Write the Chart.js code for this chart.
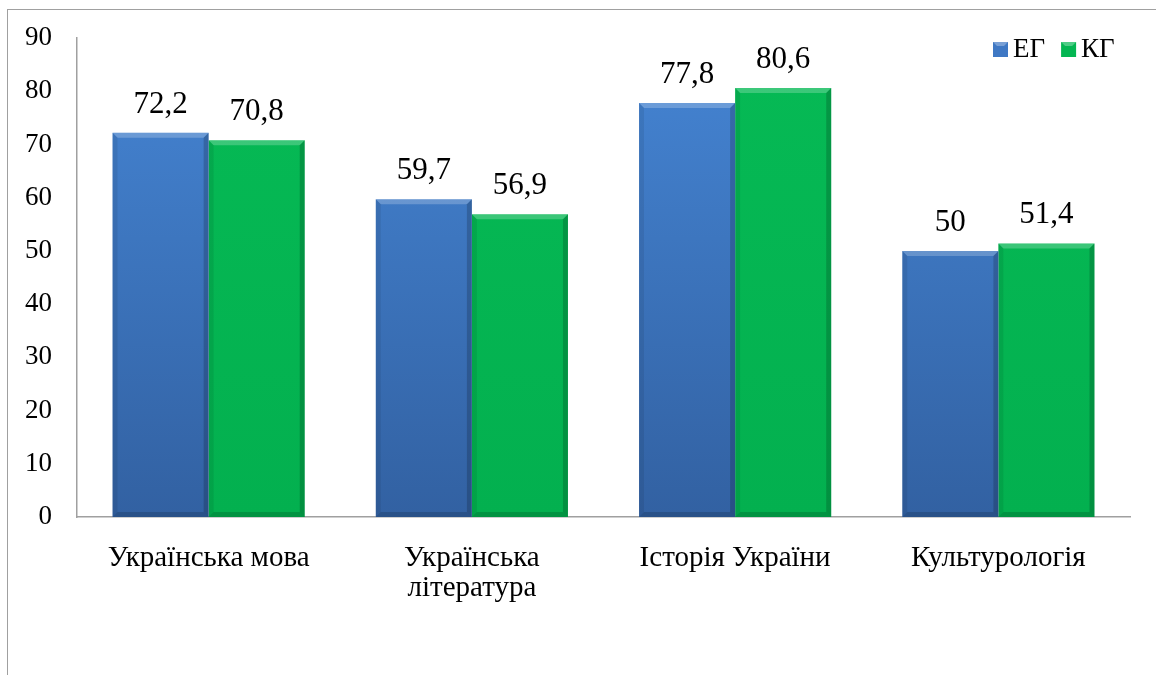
<!DOCTYPE html>
<html>
<head>
<meta charset="utf-8">
<script src="https://cdn.jsdelivr.net/npm/chart.js@4.4.1/dist/chart.umd.min.js"></script>
<style>
  html, body { margin: 0; padding: 0; background: #fff; overflow: hidden; }
  #wrap { position: relative; width: 1156px; height: 675px; }
  #frame { position: absolute; left: 7px; top: 9px; width: 1200px; height: 700px;
           border: 1.5px solid #a0a0a0; pointer-events: none; }
  canvas { position: absolute; left: 0; top: 0; }
</style>
</head>
<body>
<div id="wrap">
  <canvas id="barChart" width="1156" height="675"></canvas>
  <div id="frame"></div>
</div>
<script>
// data
var subjects = [['Українська мова'], ['Українська', 'література'], ['Історія України'], ['Культурологія']];
var egValues = [72.2, 59.7, 77.8, 50];
var kgValues = [70.8, 56.9, 80.6, 51.4];
var seriesNames = ['ЕГ', 'КГ'];
var yTicks = [0, 10, 20, 30, 40, 50, 60, 70, 80, 90];

var serif = '"Liberation Serif", "Times New Roman", serif';
var legendFills = ['#3f78c4', '#04b652'];

function blueFill(context) {
  var area = context.chart.chartArea;
  if (!area) return '#3f78c4';
  var g = context.chart.ctx.createLinearGradient(0, area.top, 0, area.bottom);
  g.addColorStop(0, '#4585d4');
  g.addColorStop(1, '#3261a2');
  return g;
}

function greenFill(context) {
  var area = context.chart.chartArea;
  if (!area) return '#04b652';
  var g = context.chart.ctx.createLinearGradient(0, area.top, 0, area.bottom);
  g.addColorStop(0, '#06ba55');
  g.addColorStop(1, '#03b04f');
  return g;
}

// bevel edges on every bar
var bevelPlugin = {
  id: 'bevel',
  afterDatasetsDraw: function (chart) {
    var ctx = chart.ctx;
    var d = 5;
    chart.data.datasets.forEach(function (ds, i) {
      chart.getDatasetMeta(i).data.forEach(function (bar) {
        var l = bar.x - bar.width / 2, r = bar.x + bar.width / 2;
        var t = bar.y, b = bar.base;
        ctx.save();
        ctx.fillStyle = 'rgba(255,255,255,0.22)';
        ctx.beginPath();
        ctx.moveTo(l, t); ctx.lineTo(r, t); ctx.lineTo(r - d, t + d); ctx.lineTo(l + d, t + d);
        ctx.closePath(); ctx.fill();
        ctx.fillStyle = 'rgba(0,0,0,0.08)';
        ctx.beginPath();
        ctx.moveTo(l, t); ctx.lineTo(l + d, t + d); ctx.lineTo(l + d, b - d); ctx.lineTo(l, b);
        ctx.closePath(); ctx.fill();
        ctx.fillStyle = 'rgba(0,0,0,0.18)';
        ctx.beginPath();
        ctx.moveTo(r, t); ctx.lineTo(r - d, t + d); ctx.lineTo(r - d, b - d); ctx.lineTo(r, b);
        ctx.closePath(); ctx.fill();
        ctx.fillStyle = 'rgba(0,0,0,0.16)';
        ctx.beginPath();
        ctx.moveTo(l, b); ctx.lineTo(l + d, b - d); ctx.lineTo(r - d, b - d); ctx.lineTo(r, b);
        ctx.closePath(); ctx.fill();
        ctx.restore();
      });
    });
  }
};

// value labels over the bars
var valuePlugin = {
  id: 'values',
  afterDatasetsDraw: function (chart) {
    var ctx = chart.ctx;
    ctx.save();
    ctx.font = '31px ' + serif;
    ctx.fillStyle = '#000';
    ctx.textAlign = 'center';
    ctx.textBaseline = 'alphabetic';
    chart.data.datasets.forEach(function (ds, i) {
      chart.getDatasetMeta(i).data.forEach(function (bar, j) {
        var txt = String(ds.data[j]).replace('.', ',');
        ctx.fillText(txt, bar.x, bar.y - 20);
      });
    });
    ctx.restore();
  }
};

// legend in the top right corner of the plot
var legendPlugin = {
  id: 'cornerLegend',
  afterDraw: function (chart) {
    var ctx = chart.ctx;
    var area = chart.chartArea;
    var x = area.right - 137;
    var y = 42;
    ctx.save();
    ctx.font = '27px ' + serif;
    ctx.textBaseline = 'middle';
    ctx.textAlign = 'left';
    chart.data.datasets.forEach(function (ds, i) {
      ctx.fillStyle = legendFills[i];
      ctx.fillRect(x, y, 15, 15);
      ctx.fillStyle = 'rgba(255,255,255,0.3)';
      ctx.beginPath();
      ctx.moveTo(x, y); ctx.lineTo(x + 15, y); ctx.lineTo(x + 11, y + 4); ctx.lineTo(x + 4, y + 4);
      ctx.closePath(); ctx.fill();
      ctx.fillStyle = '#000';
      ctx.fillText(ds.label, x + 20, y + 8);
      x += 20 + ctx.measureText(ds.label).width + 16;
    });
    ctx.restore();
  }
};

var ctx = document.getElementById('barChart').getContext('2d');
var myBarChart = new Chart(ctx, {
  type: 'bar',
  data: {
    labels: subjects,
    datasets: [
      {
        label: seriesNames[0],
        data: egValues,
        backgroundColor: blueFill,
        borderWidth: 0
      },
      {
        label: seriesNames[1],
        data: kgValues,
        backgroundColor: greenFill,
        borderWidth: 0
      }
    ]
  },
  options: {
    responsive: false,
    animation: false,
    devicePixelRatio: 1,
    layout: { padding: { left: 0, right: 26, top: 38, bottom: 0 } },
    datasets: {
      bar: { barPercentage: 1, categoryPercentage: 0.73 }
    },
    plugins: {
      legend: { display: false },
      tooltip: { enabled: false }
    },
    scales: {
      x: {
        grid: { display: false },
        border: { color: '#a0a0a0', width: 1.5 },
        ticks: {
          color: '#000',
          font: { family: serif, size: 29, lineHeight: 1.02 },
          padding: 19,
          maxRotation: 0,
          autoSkip: false
        },
        afterFit: function (scale) { scale.height = 158; }
      },
      y: {
        min: 0,
        max: 90,
        afterBuildTicks: function (scale) {
          scale.ticks = yTicks.map(function (v) { return { value: v }; });
        },
        grid: { display: false },
        border: { color: '#a0a0a0', width: 1.5 },
        ticks: {
          color: '#000',
          font: { family: serif, size: 27 },
          padding: 17
        },
        afterFit: function (scale) { scale.width = 77; }
      }
    }
  },
  plugins: [bevelPlugin, valuePlugin, legendPlugin]
});
</script>
</body>
</html>
